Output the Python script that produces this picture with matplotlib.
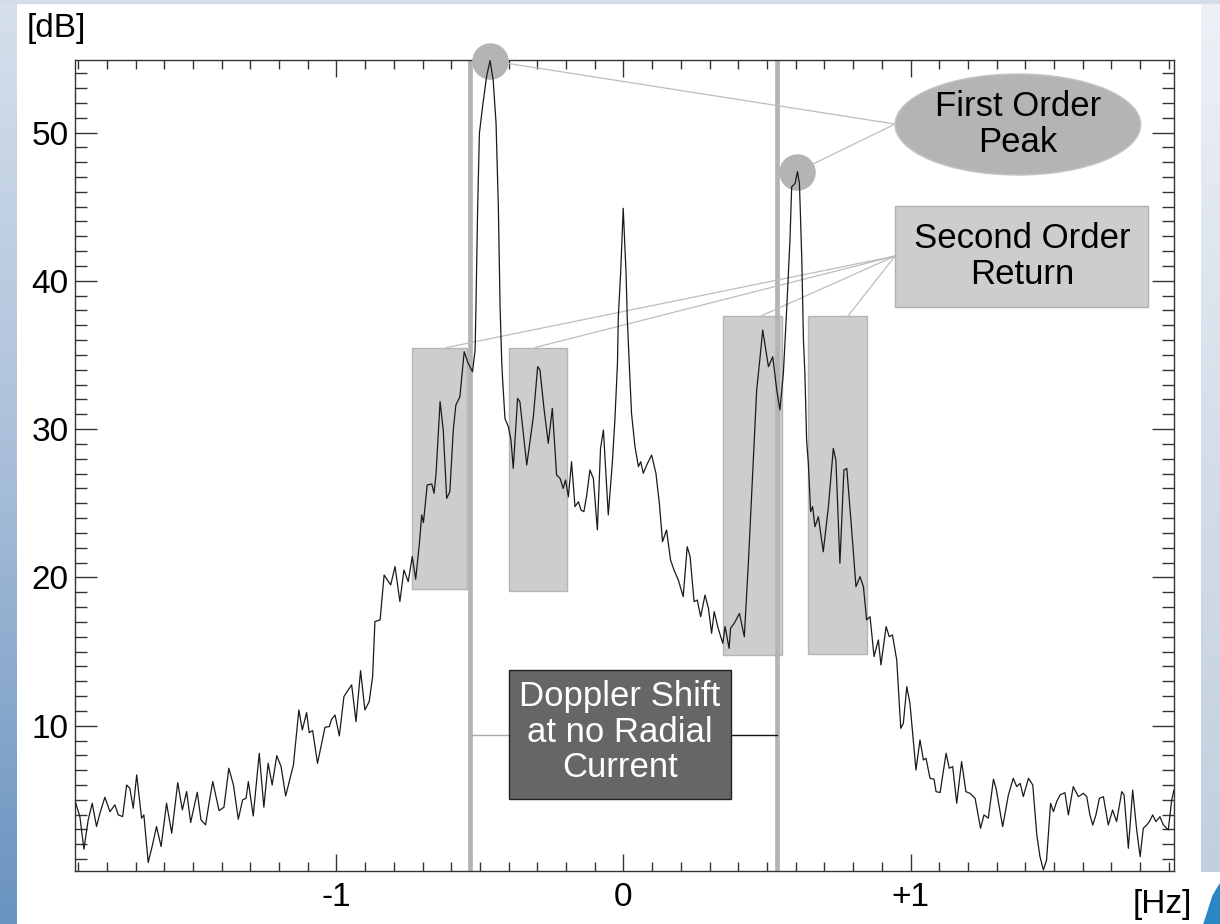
import numpy as np
import matplotlib.pyplot as plt
from matplotlib.patches import Rectangle, Ellipse, Polygon
from matplotlib.colors import LinearSegmentedColormap
from matplotlib.ticker import MultipleLocator

plt.rcParams['font.family'] = ['Liberation Sans', 'DejaVu Sans']

# Doppler spectrum: frequency [Hz], power [dB]
freq = [
    -1.912, -1.894, -1.880, -1.865, -1.851, -1.836, -1.824, -1.807, -1.789, -1.772,
    -1.760, -1.745, -1.731, -1.720, -1.708, -1.696, -1.679, -1.671, -1.656, -1.641,
    -1.627, -1.611, -1.592, -1.574, -1.553, -1.537, -1.522, -1.508, -1.485, -1.472,
    -1.456, -1.444, -1.431, -1.409, -1.392, -1.375, -1.359, -1.342, -1.327, -1.315,
    -1.307, -1.290, -1.269, -1.253, -1.238, -1.224, -1.208, -1.193, -1.177, -1.150,
    -1.131, -1.119, -1.104, -1.095, -1.083, -1.066, -1.040, -1.025, -1.017, -1.005,
    -0.990, -0.974, -0.959, -0.947, -0.932, -0.916, -0.901, -0.886, -0.874, -0.866,
    -0.848, -0.834, -0.811, -0.796, -0.779, -0.765, -0.750, -0.736, -0.724, -0.711,
    -0.703, -0.697, -0.684, -0.668, -0.660, -0.653, -0.639, -0.628, -0.616, -0.605,
    -0.593, -0.584, -0.570, -0.555, -0.541, -0.526, -0.517, -0.514, -0.508, -0.502,
    -0.491, -0.477, -0.465, -0.454, -0.444, -0.436, -0.430, -0.424, -0.421, -0.413,
    -0.401, -0.392, -0.384, -0.369, -0.361, -0.337, -0.314, -0.299, -0.291, -0.277,
    -0.262, -0.248, -0.233, -0.221, -0.210, -0.202, -0.192, -0.181, -0.169, -0.157,
    -0.148, -0.138, -0.128, -0.117, -0.105, -0.091, -0.080, -0.070, -0.053, -0.039,
    -0.030, -0.021, -0.018, -0.010, -0.001, 0.009, 0.013, 0.020, 0.028, 0.040,
    0.052, 0.060, 0.069, 0.081, 0.098, 0.113, 0.125, 0.136, 0.150, 0.164,
    0.176, 0.191, 0.208, 0.222, 0.232, 0.246, 0.257, 0.269, 0.284, 0.296,
    0.307, 0.316, 0.330, 0.346, 0.354, 0.368, 0.373, 0.389, 0.404, 0.421,
    0.435, 0.450, 0.464, 0.476, 0.485, 0.505, 0.520, 0.534, 0.545, 0.557,
    0.569, 0.580, 0.586, 0.598, 0.606, 0.613, 0.621, 0.627, 0.632, 0.638,
    0.644, 0.652, 0.659, 0.667, 0.679, 0.696, 0.714, 0.731, 0.740, 0.754,
    0.768, 0.778, 0.795, 0.810, 0.824, 0.836, 0.847, 0.859, 0.873, 0.888,
    0.897, 0.915, 0.926, 0.937, 0.952, 0.966, 0.975, 0.987, 0.998, 1.019,
    1.033, 1.045, 1.054, 1.068, 1.082, 1.089, 1.103, 1.124, 1.135, 1.147,
    1.161, 1.178, 1.193, 1.207, 1.225, 1.244, 1.256, 1.271, 1.289, 1.298,
    1.321, 1.341, 1.358, 1.370, 1.382, 1.393, 1.411, 1.426, 1.440, 1.451,
    1.463, 1.474, 1.488, 1.498, 1.509, 1.521, 1.538, 1.550, 1.567, 1.585,
    1.602, 1.614, 1.625, 1.635, 1.646, 1.658, 1.672, 1.689, 1.704, 1.718,
    1.736, 1.744, 1.759, 1.774, 1.788, 1.800, 1.811, 1.823, 1.832, 1.844,
    1.855, 1.869, 1.881, 1.898, 1.910, 1.918,
]
power = [
    5.0, 3.87, 1.67, 3.64, 4.77, 3.2, 4.1, 5.17, 4.2, 4.66,
    3.98, 3.87, 6.0, 5.78, 4.43, 6.68, 3.76, 3.98, 0.77, 1.96,
    3.2, 1.85, 4.77, 2.75, 6.16, 4.32, 5.56, 3.47, 5.51, 3.65,
    3.31, 4.77, 6.23, 4.27, 4.5, 7.13, 6.0, 3.69, 5.0, 5.1,
    6.23, 3.91, 8.14, 4.5, 7.47, 6.0, 7.98, 7.24, 5.26, 7.35,
    11.06, 9.71, 10.88, 9.53, 9.67, 7.46, 9.89, 9.94, 10.43, 10.72,
    9.31, 11.96, 12.41, 12.75, 10.27, 13.71, 11.06, 11.62, 13.31, 17.02,
    17.13, 20.16, 19.49, 20.73, 18.37, 20.5, 19.71, 21.4, 19.87, 22.3,
    24.21, 23.69, 26.23, 26.3, 25.67, 27.02, 31.85, 29.94, 25.33, 25.78,
    29.94, 31.62, 32.18, 35.22, 34.43, 33.87, 35.33, 38.26, 45.0, 49.95,
    51.74, 53.77, 54.85, 53.54, 50.62, 45.0, 38.26, 34.43, 33.31, 30.72,
    30.16, 29.26, 27.35, 32.07, 31.85, 27.58, 30.84, 34.21, 33.98, 31.4,
    29.04, 31.4, 26.9, 26.68, 26.0, 26.57, 25.44, 27.8, 24.77, 25.1,
    24.54, 24.43, 25.55, 27.24, 26.68, 23.2, 28.7, 29.94, 24.21, 27.69,
    30.61, 34.43, 37.58, 40.5, 44.89, 40.5, 37.58, 34.43, 31.06, 28.81,
    27.47, 27.8, 27.02, 27.58, 28.25, 27.02, 24.99, 22.41, 23.2, 21.17,
    20.5, 19.82, 18.7, 22.07, 21.4, 18.36, 18.47, 17.35, 18.81, 17.91,
    16.23, 17.69, 16.56, 15.55, 16.68, 15.21, 16.56, 17.01, 17.57, 16.0,
    20.95, 27.02, 32.63, 34.88, 36.68, 34.21, 34.88, 32.63, 31.29, 33.76,
    38.25, 42.75, 46.34, 46.57, 47.36, 46.57, 41.62, 36.0, 33.76, 29.26,
    27.69, 24.43, 24.77, 23.42, 24.09, 21.73, 24.77, 28.7, 27.91, 20.95,
    27.24, 27.35, 23.2, 19.37, 20.05, 19.37, 17.13, 17.35, 14.66, 15.78,
    14.1, 16.68, 16.0, 16.12, 14.43, 9.82, 10.16, 12.63, 11.51, 7.01,
    9.04, 7.69, 7.8, 6.45, 6.39, 5.55, 5.49, 8.14, 7.13, 7.24,
    4.77, 7.58, 5.55, 5.44, 5.1, 3.08, 3.98, 3.76, 6.39, 5.78,
    3.19, 5.33, 6.45, 5.89, 6.11, 5.22, 6.45, 6.0, 2.63, 1.17,
    0.27, 0.94, 4.76, 4.2, 4.87, 5.33, 5.48, 3.98, 5.89, 5.21,
    5.44, 5.21, 3.98, 3.3, 3.98, 5.1, 5.21, 3.3, 4.31, 3.53,
    5.55, 5.33, 1.73, 5.66, 2.97, 1.17, 3.08, 3.3, 3.53, 3.98,
    3.53, 3.86, 3.3, 2.97, 4.99, 5.66,
]

# Bragg frequencies (no radial current) and the second order regions
bragg = [-0.535, 0.535]
second_lo = [-0.736, -0.399, 0.348, 0.644]
second_hi = [-0.544, -0.196, 0.551, 0.847]
second_bottom = [19.2, 19.05, 14.75, 14.85]
second_top = [35.5, 35.5, 37.6, 37.65]
second_leader_x = [-0.616, -0.308, 0.476, 0.783]

freq = np.array(freq)
power = np.array(power)

fig = plt.figure(figsize=(12.2, 9.24), dpi=100)

# slide-like backdrop
bg = fig.add_axes([0, 0, 1, 1], zorder=-10)
bg.set_xlim(0, 1220)
bg.set_ylim(924, 0)
bg.axis('off')
grad = np.linspace(0, 1, 256)[:, None]
left_cm = LinearSegmentedColormap.from_list('left', ['#d6e0ec', '#a9bfd9', '#6993c0'])
right_cm = LinearSegmentedColormap.from_list('right', ['#eef1f6', '#d5deea', '#c3cfdf'])
bg.imshow(grad, cmap=left_cm, extent=(0, 17, 924, 0), aspect='auto')
bg.imshow(grad, cmap=right_cm, extent=(1201, 1220, 872, 0), aspect='auto')
bg.add_patch(Rectangle((0, 0), 1220, 2.5, color='#d3dce8'))
bg.add_patch(Polygon([(1204, 924), (1213, 896), (1220, 884), (1220, 924)], color='#2b86c6'))

ax = fig.add_axes([74.7 / 1220, (924 - 870.7) / 924, 1099.3 / 1220, 810.7 / 924])
ax.set_xlim(-1.912, 1.918)
ax.set_ylim(0.22, 54.89)

# second order boxes
for lo, hi, b, t in zip(second_lo, second_hi, second_bottom, second_top):
    ax.add_patch(Rectangle((lo, b), hi - lo, t - b, facecolor='#cdcdcd',
                           edgecolor='#b5b5b5', lw=1, zorder=1))

# Bragg lines
for b in bragg:
    ax.axvline(b, color='#b4b4b4', lw=3.4, zorder=1.5)

# spectrum
ax.plot(freq, power, color='#1a1a1a', lw=0.9, zorder=3)

# first order peaks
neg = freq < 0
pos = freq > 0.3
peaks_x = [freq[neg][np.argmax(power[neg])], freq[pos][np.argmax(power[pos])]]
peaks_y = [power[neg].max(), power[pos].max()]

ax.plot(peaks_x, peaks_y, 'o', ms=26.3, color='#b4b4b4', mec='none',
        zorder=2.6, clip_on=False)
for px, py in zip(peaks_x, peaks_y):
    ax.plot([0.946, px], [50.57, py], color='#bdbdbd', lw=0.9, zorder=2.4, clip_on=False)

ax.add_patch(Ellipse((1.374, 50.54), 0.856, 6.81, facecolor='#b4b4b4',
                     edgecolor='#c4c4c4', lw=1, zorder=4))
ax.text(1.374, 50.54, 'First Order\nPeak', ha='center', va='center',
        fontsize=25, linespacing=1.1, zorder=5)

# second order callout
for sx, st in zip(second_leader_x, second_top):
    ax.plot([0.946, sx], [41.67, st], color='#bdbdbd', lw=0.9, zorder=2.4)
ax.add_patch(Rectangle((0.946, 38.21), 0.883, 6.83, facecolor='#cdcdcd',
                       edgecolor='#b0b0b0', lw=1, zorder=4))
ax.text(1.388, 41.62, 'Second Order\nReturn', ha='center', va='center',
        fontsize=25, linespacing=1.1, zorder=5)

# doppler shift callout
ax.plot([bragg[0], -0.399], [9.38, 9.38], color='#aaaaaa', lw=1, zorder=2)
ax.plot([0.375, bragg[1]], [9.38, 9.38], color='#111111', lw=1, zorder=2)
ax.add_patch(Rectangle((-0.399, 5.06), 0.774, 8.69, facecolor='#666666',
                       edgecolor='#222222', lw=1, zorder=4))
ax.text(-0.012, 9.55, 'Doppler Shift\nat no Radial\nCurrent', ha='center', va='center',
        fontsize=25, color='white', linespacing=1.1, zorder=5)

# axes styling
ax.set_xticks([-1, 0, 1])
ax.set_xticklabels(['-1', '0', '+1'])
ax.set_yticks([10, 20, 30, 40, 50])
ax.xaxis.set_minor_locator(MultipleLocator(0.1))
ax.yaxis.set_minor_locator(MultipleLocator(1))
ax.tick_params(axis='x', which='major', direction='in', length=12, width=1,
               top=True, labelsize=24, pad=8, color='#333333')
ax.tick_params(axis='x', which='minor', direction='in', length=6.5, width=1,
               top=True, color='#333333')
ax.tick_params(axis='y', which='major', direction='in', length=16, width=1,
               right=True, labelsize=24, pad=4.5, color='#333333')
ax.tick_params(axis='y', which='minor', direction='in', length=8.5, width=1,
               right=True, color='#333333')
for s in ax.spines.values():
    s.set_color('#333333')
    s.set_linewidth(1)

fig.text(56 / 1220, 1 - 28 / 924, '[dB]', ha='center', va='center', fontsize=24)
fig.text(1162 / 1220, 1 - 904 / 924, '[Hz]', ha='center', va='center', fontsize=24)

fig.savefig('out.png', dpi=100)
